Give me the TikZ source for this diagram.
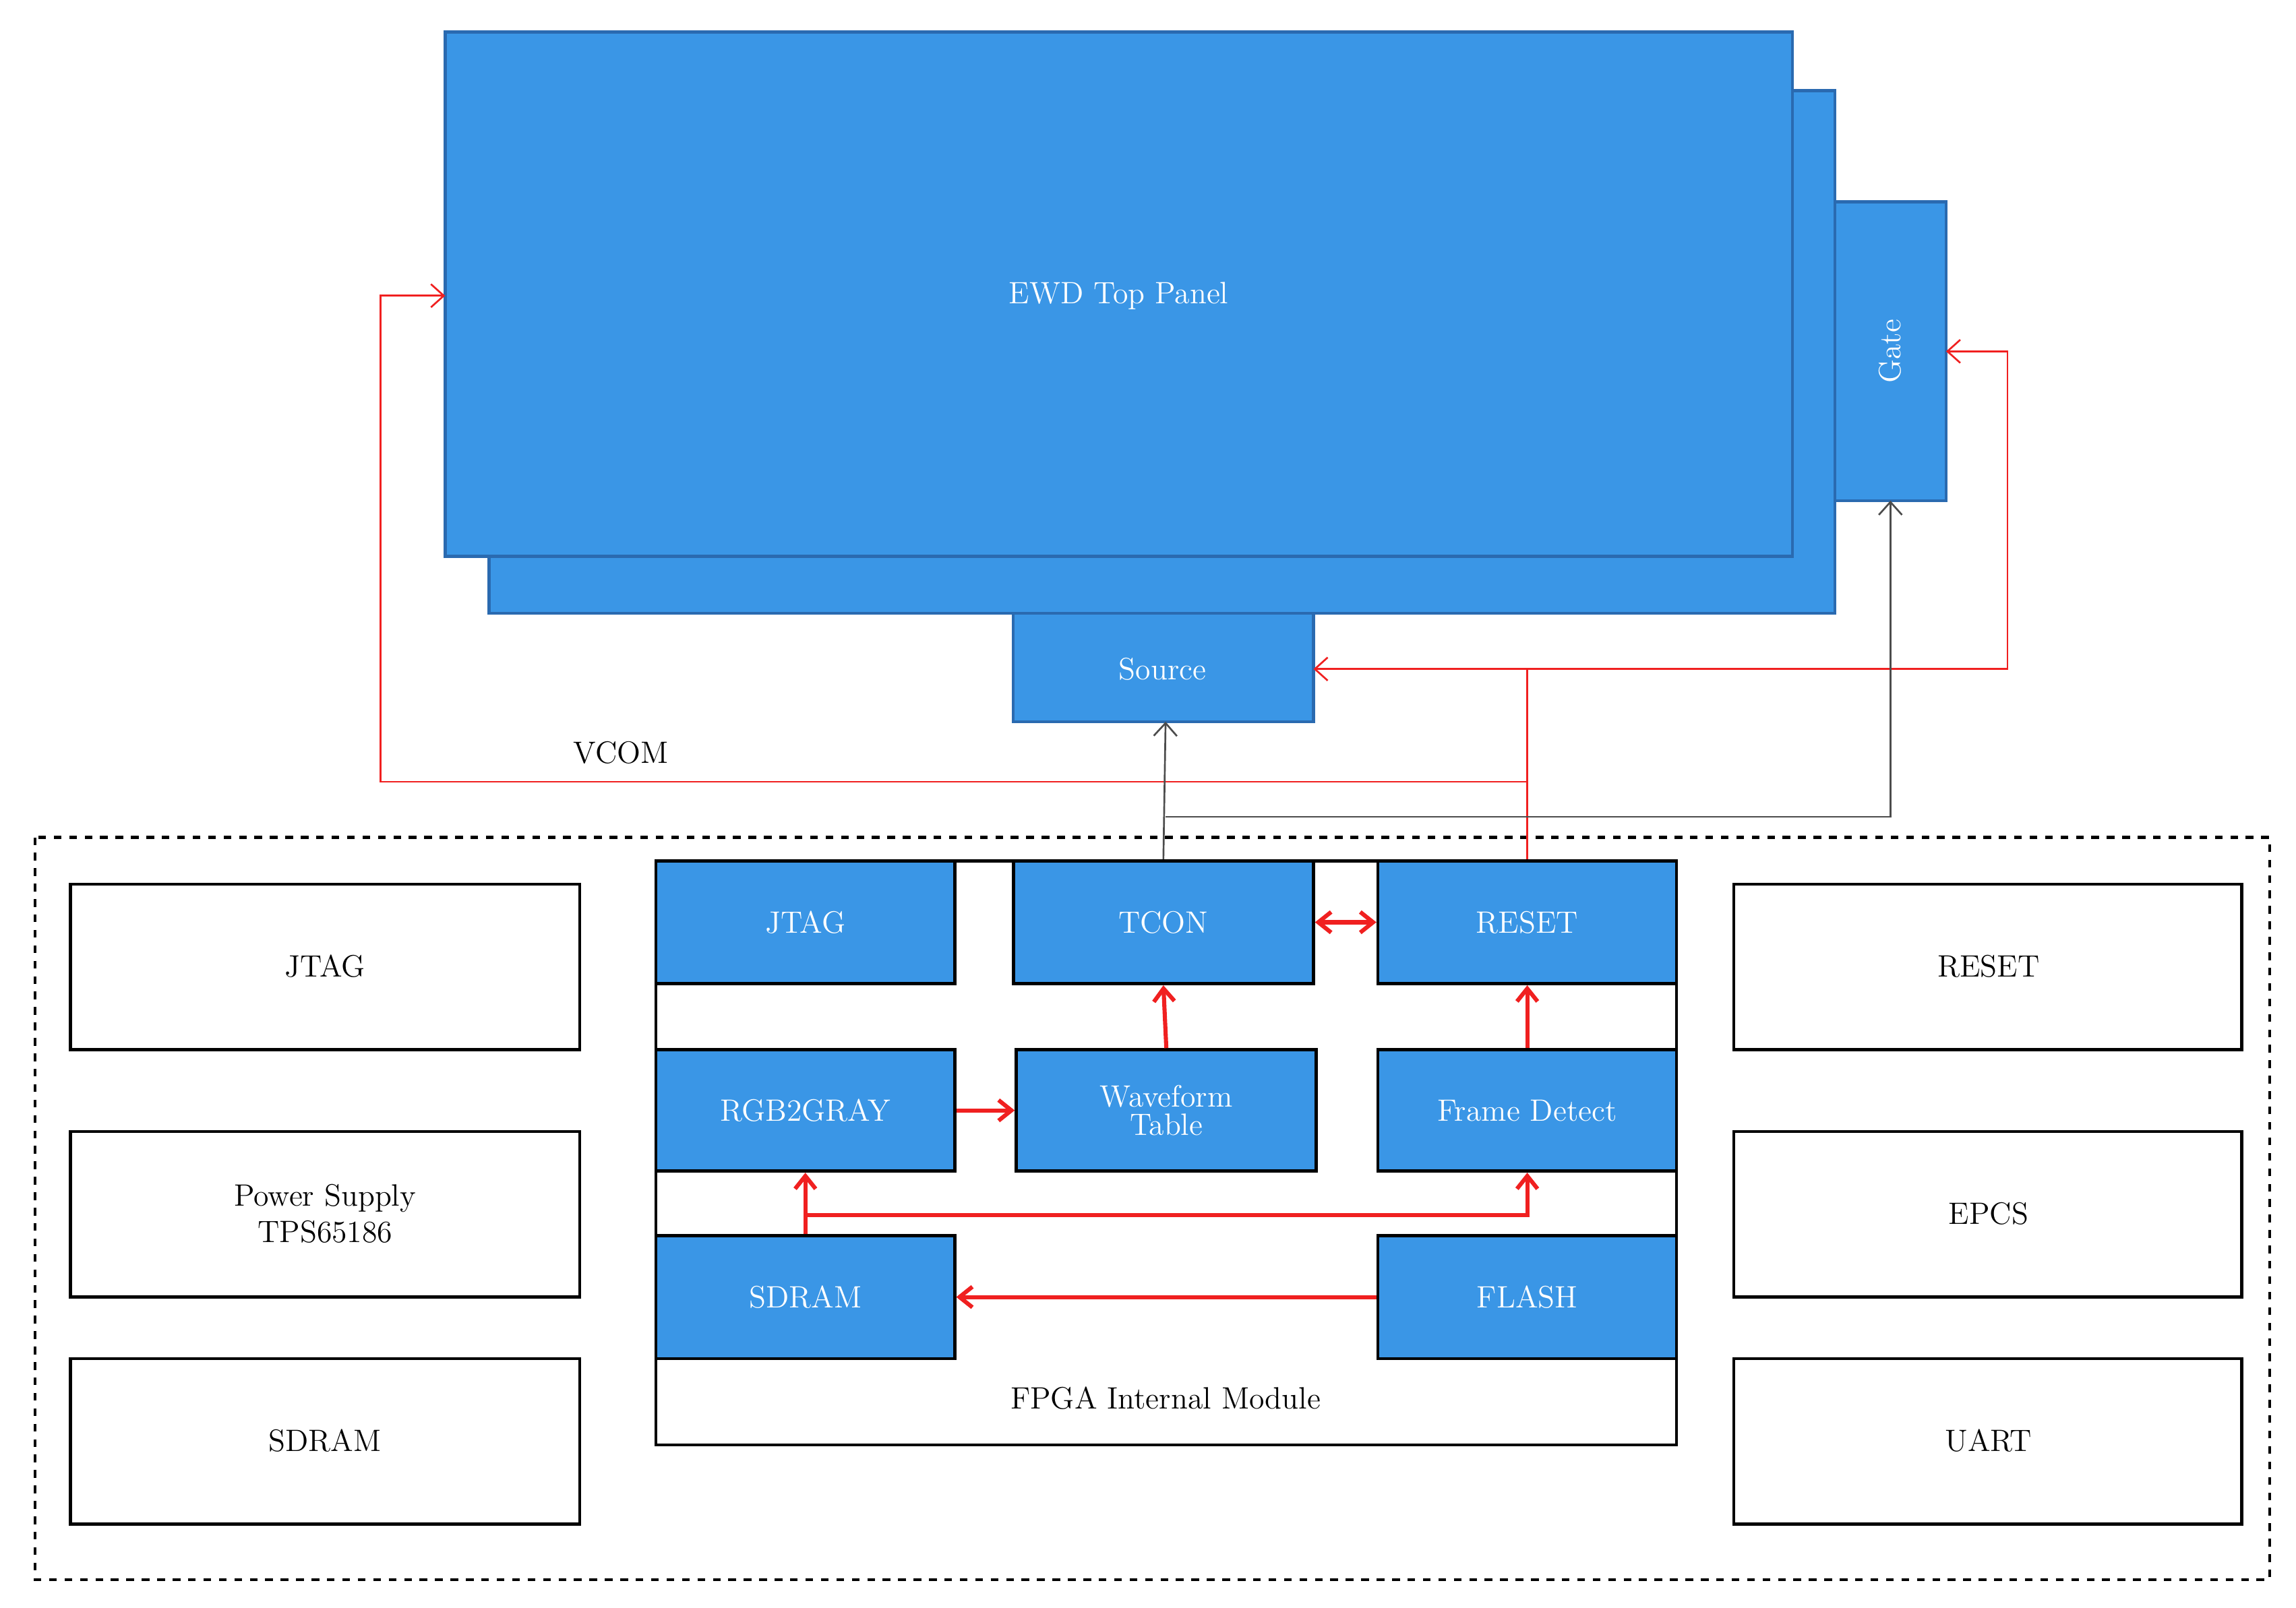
\documentclass[tikz,border=0pt]{standalone}
\usetikzlibrary{arrows.meta}
\definecolor{bl}{HTML}{3A96E6}
\definecolor{bd}{HTML}{2A6AB0}
\definecolor{rd}{HTML}{F02020}
\begin{document}
\begin{tikzpicture}[x=0.02cm,y=-0.02cm,
  bb/.style={draw=bd,line width=1.2pt,fill=bl},
  blk/.style={draw=black,line width=1.2pt,fill=bl,text=white},
  wb/.style={draw=black,line width=1.2pt,fill=white},
  lab/.style={font=\fontsize{12}{14}\selectfont,align=center},
  ra/.style={draw=rd,line width=1.6pt,-{Straight Barb[length=5pt,width=8pt]}},
  tr/.style={draw=rd,line width=0.7pt,-{Straight Barb[length=5pt,width=9pt]}},
  tg/.style={draw=black!70,line width=0.7pt,-{Straight Barb[length=5pt,width=9pt]}}]
\useasboundingbox (0,0) rectangle (1568,1098);
\draw[bb] (334,62) rectangle (1253,419);
\draw[bb] (304,22) rectangle (1224,380);
\node[lab,text=white] (panel) at (764,202) {EWD Top Panel};
\coordinate (panelL) at (304,202);
\draw[bb] (1253,138) rectangle (1329,342);
\node[lab,text=white,rotate=90] (gate) at (1291,240) {Gate};
\coordinate (gateR) at (1329,240); \coordinate (gateB) at (1291,342);
\draw[bb] (692,419) rectangle (897,493);
\node[lab,text=white] (source) at (794,457) {Source};
\coordinate (srcR) at (897,457); \coordinate (srcB) at (796,493);
\draw[dashed,line width=1.2pt] (24,572) rectangle (1550,1079);
% left/right boxes
\foreach \n/\t/\y in {lj/JTAG/660, lp/{Power Supply\\TPS65186}/829, ls/SDRAM/984}
  {\draw[wb] (48,\y-56) rectangle (396,\y+57); \node[lab] (\n) at (222,\y) {\t};}
\foreach \n/\t/\y in {rr/RESET/660, re/EPCS/829, ru/UART/984}
  {\draw[wb] (1184,\y-56) rectangle (1531,\y+57); \node[lab] (\n) at (1358,\y) {\t};}
\draw[wb] (448,588) rectangle (1145,987);
\node[lab] (fpga) at (796,955) {FPGA Internal Module};
\node[blk,lab,minimum width=204\pgflinewidth*0+4.08cm,minimum height=1.68cm] (jtag) at (550,630) {JTAG};
\node[blk,lab,minimum width=4.1cm,minimum height=1.68cm] (tcon) at (794.5,630) {TCON};
\node[blk,lab,minimum width=4.08cm,minimum height=1.68cm] (reset) at (1043,630) {RESET};
\node[blk,lab,minimum width=4.08cm,minimum height=1.66cm] (rgb) at (550,758.5) {RGB2GRAY};
\node[blk,lab,minimum width=4.1cm,minimum height=1.66cm] (wave) at (796.5,758.5) {Waveform\\[-3pt]Table};
\node[blk,lab,minimum width=4.08cm,minimum height=1.66cm] (frame) at (1043,758.5) {Frame Detect};
\node[blk,lab,minimum width=4.08cm,minimum height=1.68cm] (sdram) at (550,886) {SDRAM};
\node[blk,lab,minimum width=4.08cm,minimum height=1.68cm] (flash) at (1043,886) {FLASH};
% thick red
\draw[ra,{Straight Barb[length=5pt,width=8pt]}-{Straight Barb[length=5pt,width=8pt]}] (tcon.east) -- (reset.west);
\draw[ra] (wave.north) -- (tcon.south);
\draw[ra] (rgb.east) -- (wave.west);
\draw[ra] (frame.north) -- (reset.south);
\draw[ra] (flash.west) -- (sdram.east);
\draw[ra] (sdram.north) -- (rgb.south);
\draw[ra] (550,830) -- (1043,830) -- (frame.south);
% thin red
\draw[tr] (reset.north) -- (1043,457) -- (srcR);
\draw[tr] (1043,457) -- (1371,457) -- (1371,240) -- (gateR);
\draw[tr] (1043,534) -- (260,534) -- (260,202) -- (panelL);
\node[lab] (vcom) at (424,514) {VCOM};
% gray
\draw[tg] (tcon.north) -- (srcB);
\draw[tg] (796,558) -- (1291,558) -- (gateB);
\end{tikzpicture}
\end{document}
